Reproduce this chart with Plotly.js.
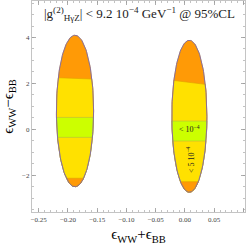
<!DOCTYPE html>
<html>
<head>
<meta charset="utf-8">
<script src="https://cdn.plot.ly/plotly-3.0.1.min.js"></script>
<style>html,body{margin:0;padding:0;background:#fff;}#chart{width:249px;height:246px;}</style>
</head>
<body>
<div id="chart"></div>
<script>
// Two allowed regions (left / right)
const regionNames = ['left', 'right'];
const centerX = [-0.188, 0.0075];
const halfWidthX = [0.0318, 0.0300];
const topY = [4.10, 3.88];
const bottomY = [-2.50, -2.74];
// Band boundaries (top to bottom) per region: value at left edge and right edge
const upperOrangeL = [2.25, 2.14];
const upperOrangeR = [2.19, 1.95];
const greenTop = [0.52, 0.36];
const greenBottom = [-0.35, -0.51];
const lowerOrange = [-2.13, -2.28];
// Band colours from top to bottom
const bandLabels = ['orange', 'yellow', 'green', 'yellow', 'orange'];
const bandColors = ['#ff9a06', '#ffe100', '#ccff00', '#ffe100', '#ff9a06'];
// Text inside the right region
const noteText = ['< 10<sup>−4</sup>', '< 5 10<sup>−4</sup>'];
const noteX = [0.008, 0.009];
const noteY = [0.0, -1.33];
const noteAngle = [0, -90];
// Axis ticks
const xTicks = [-0.25, -0.20, -0.15, -0.10, -0.05, 0.00, 0.05, 0.10];
const xTickText = ['−0.25', '−0.20', '−0.15', '−0.10', '−0.05', '0.00', '0.05', '0.10'];
const yTicks = [-2, 0, 2, 4];
const yTickText = ['−2', '0', '2', '4'];

const SERIF = 'Liberation Serif, DejaVu Serif, Times New Roman, serif';

function ellipsePoly(i) {
  const cy = (topY[i] + bottomY[i]) / 2, hh = (topY[i] - bottomY[i]) / 2;
  const pts = [];
  const N = 160;
  for (let k = 0; k < N; k++) {
    const t = 2 * Math.PI * k / N;
    pts.push([centerX[i] + halfWidthX[i] * Math.cos(t), cy + hh * Math.sin(t)]);
  }
  return pts;
}
// clip polygon to half-plane y <= line through (xl,yl)-(xr,yr)
function clipBelow(poly, xl, yl, xr, yr) {
  const f = p => p[1] - (yl + (yr - yl) * (p[0] - xl) / (xr - xl));
  const out = [];
  for (let k = 0; k < poly.length; k++) {
    const a = poly[k], b = poly[(k + 1) % poly.length];
    const fa = f(a), fb = f(b);
    if (fa <= 0) out.push(a);
    if ((fa <= 0) !== (fb <= 0)) {
      const t = fa / (fa - fb);
      out.push([a[0] + t * (b[0] - a[0]), a[1] + t * (b[1] - a[1])]);
    }
  }
  return out;
}

const traces = [];
for (let i = 0; i < regionNames.length; i++) {
  const full = ellipsePoly(i);
  const xl = centerX[i] - halfWidthX[i], xr = centerX[i] + halfWidthX[i];
  const cuts = [null,
    [upperOrangeL[i], upperOrangeR[i]],
    [greenTop[i], greenTop[i]],
    [greenBottom[i], greenBottom[i]],
    [lowerOrange[i], lowerOrange[i]]];
  for (let b = 0; b < bandColors.length; b++) {
    const poly = cuts[b] ? clipBelow(full, xl, cuts[b][0], xr, cuts[b][1]) : full;
    traces.push({
      type: 'scatter', mode: 'lines', fill: 'toself',
      x: poly.map(p => p[0]).concat([poly[0][0]]),
      y: poly.map(p => p[1]).concat([poly[0][1]]),
      fillcolor: bandColors[b],
      line: {color: b === 2 || b === 3 ? '#b8b840' : '#e0a000', width: 0.6},
      hoverinfo: 'skip', showlegend: false, name: regionNames[i] + ' ' + bandLabels[b]
    });
  }
  traces.push({
    type: 'scatter', mode: 'lines',
    x: full.map(p => p[0]).concat([full[0][0]]),
    y: full.map(p => p[1]).concat([full[0][1]]),
    line: {color: '#7f66a8', width: 0.9},
    hoverinfo: 'skip', showlegend: false
  });
}

const annotations = noteText.map((t, k) => ({
  x: noteX[k], y: noteY[k], xref: 'x', yref: 'y', text: t, showarrow: false,
  textangle: noteAngle[k], font: {family: SERIF, size: 8, color: '#222'}
}));
annotations.push({
  xref: 'paper', yref: 'paper', x: 0.505, y: 0.99, xanchor: 'center', yanchor: 'top',
  text: '|g<sup>(2)</sup><sub>HγZ</sub>| < 9.2 10<sup>−4</sup> GeV<sup>−1</sup> @ 95%CL',
  showarrow: false, font: {family: SERIF, size: 13, color: '#222'}
});

const axisCommon = {
  showgrid: false, zeroline: false, showline: true, mirror: 'ticks',
  linecolor: '#c4c4c4', linewidth: 1.2, ticks: 'inside', tickcolor: '#999',
  ticklen: 4, tickwidth: 0.8,
  tickfont: {family: SERIF, size: 7, color: '#444'}
};

const layout = {
  width: 249, height: 246,
  margin: {l: 32, r: 4, t: 1, b: 34},
  paper_bgcolor: '#fff', plot_bgcolor: '#fff',
  showlegend: false,
  xaxis: Object.assign({}, axisCommon, {
    range: [-0.2615, 0.1026], tickvals: xTicks, ticktext: xTickText,
    minor: {dtick: 0.01, ticks: 'inside', ticklen: 2, tickcolor: '#999', tickwidth: 0.6},
    title: {text: 'ϵ<sub>WW</sub>+ϵ<sub>BB</sub>', font: {family: SERIF, size: 15, color: '#000'}, standoff: 6}
  }),
  yaxis: Object.assign({}, axisCommon, {
    range: [-3.6, 5.59], tickvals: yTicks, ticktext: yTickText,
    minor: {dtick: 0.5, ticks: 'inside', ticklen: 2, tickcolor: '#999', tickwidth: 0.6},
    title: {text: 'ϵ<sub>WW</sub>−ϵ<sub>BB</sub>', font: {family: SERIF, size: 15, color: '#000'}, standoff: 4}
  }),
  annotations: annotations
};

Plotly.newPlot('chart', traces, layout, {displayModeBar: false, staticPlot: true});
</script>
</body>
</html>
